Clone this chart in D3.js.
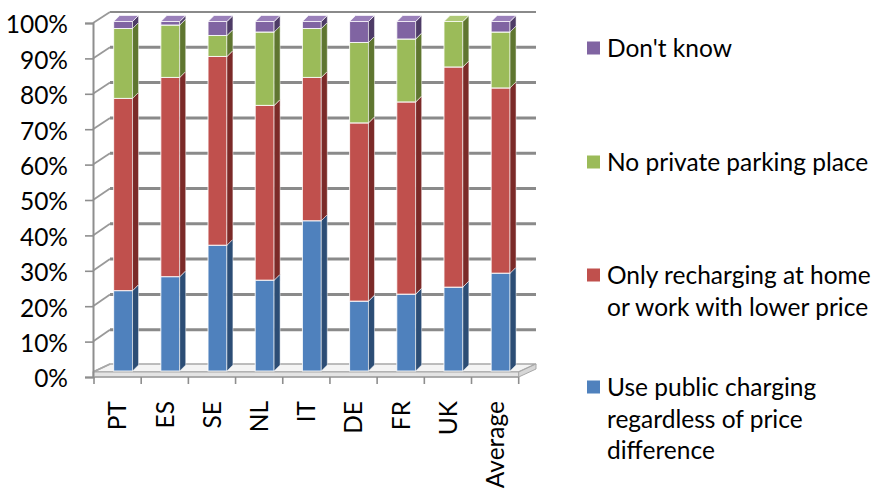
<!DOCTYPE html>
<html>
<head>
<meta charset="utf-8">
<script src="https://cdn.jsdelivr.net/npm/d3@7/dist/d3.min.js"></script>
<style>
  html, body { margin: 0; padding: 0; background: #fff; }
  svg { display: block; font-family: Lato, "Open Sans", sans-serif; }
</style>
</head>
<body>
<svg id="chart" width="875" height="489"></svg>
<script>
// Reasons for charging behaviour, share of respondents per country (%)
const categories = ["PT", "ES", "SE", "NL", "IT", "DE", "FR", "UK", "Average"];
const publicCharging = [23, 27, 36, 26, 43, 20, 22, 24, 28];
const homeOrWork     = [55, 57, 54, 50, 41, 51, 55, 63, 53];
const noParking      = [20, 15, 6, 21, 14, 23, 18, 13, 16];
const dontKnow       = [2, 1, 4, 3, 2, 6, 5, 0, 3];

const legendLines = [
  ["Use public charging", "regardless of price", "difference"],
  ["Only recharging at home", "or work with lower price"],
  ["No private parking place"],
  ["Don't know"]
];
const yTicks = [0, 10, 20, 30, 40, 50, 60, 70, 80, 90, 100];

const seriesValues = [publicCharging, homeOrWork, noParking, dontKnow];
const frontFill = ["#4F81BD", "#C0504D", "#9BBB59", "#8064A2"];
const sideFill  = ["#2C4D75", "#7B2A28", "#5F7630", "#4D3B66"];
const topFill   = ["#6E97CB", "#CC6B68", "#AFC977", "#9A80BA"];

const FONT = 24.5;
const svg = d3.select("#chart");

// Front plane (axis), back wall and bar planes of the 3-D box
const yFront = d3.scaleLinear().domain([0, 100]).range([377, 23]);
const yBack  = d3.scaleLinear().domain([0, 100]).range([365, 12]);
const yBar   = d3.scaleLinear().domain([0, 100]).range([371, 21.5]);

const xFront = d3.scaleBand().domain(categories).range([94, 518.7]).padding(0);
const xBar = d3.scaleBand().domain(categories).range([99.5, 524.2])
  .paddingInner(0.6).paddingOuter(0.3);

const wallLeft = 110, wallRight = 536, axisX = 93;
const depthX = 6, depthY = -6;

// Floor slab
const floorFrontY = 372, floorBackY = 364;
svg.append("polygon")
  .attr("points", [[axisX, floorFrontY], [518.7, floorFrontY], [wallRight, floorBackY], [wallLeft, floorBackY]].join(" "))
  .attr("fill", "#f4f4f4").attr("stroke", "#a8a8a8").attr("stroke-width", 1.5);
svg.append("polygon")
  .attr("points", [[axisX, floorFrontY], [518.7, floorFrontY], [518.7, 377], [axisX, 377]].join(" "))
  .attr("fill", "#e4e4e4").attr("stroke", "#a8a8a8").attr("stroke-width", 1);
svg.append("polygon")
  .attr("points", [[518.7, floorFrontY], [wallRight, floorBackY], [wallRight, floorBackY + 5], [518.7, 377]].join(" "))
  .attr("fill", "#d6d6d6").attr("stroke", "#a8a8a8").attr("stroke-width", 1);

// Back-wall gridlines and side-wall lines
const grid = svg.append("g");
grid.selectAll("line.back").data(yTicks.filter(d => d > 0)).join("line")
  .attr("class", "back")
  .attr("x1", wallLeft).attr("x2", wallRight)
  .attr("y1", d => yBack(d)).attr("y2", d => yBack(d))
  .attr("stroke", "#8a8a8a").attr("stroke-width", d => d === 100 ? 2.2 : 3);
grid.selectAll("line.side").data(yTicks.filter(d => d > 0)).join("line")
  .attr("class", "side")
  .attr("x1", axisX).attr("x2", wallLeft)
  .attr("y1", d => yFront(d)).attr("y2", d => yBack(d))
  .attr("stroke", "#999").attr("stroke-width", 1.8);
grid.append("line")
  .attr("x1", axisX).attr("x2", wallLeft)
  .attr("y1", floorFrontY).attr("y2", floorBackY)
  .attr("stroke", "#a8a8a8").attr("stroke-width", 1.5);

// Stacked 3-D columns
const stackData = categories.map((c, i) => {
  const o = { cat: c };
  seriesValues.forEach((vals, s) => { o["s" + s] = vals[i]; });
  return o;
});
const stack = d3.stack().keys(seriesValues.map((_, s) => "s" + s));
const layers = stack(stackData);

const bars = svg.append("g");
categories.forEach((cat, ci) => {
  const g = bars.append("g");
  const x0 = xBar(cat), w = xBar.bandwidth();
  layers.forEach((layer, s) => {
    const [v0, v1] = layer[ci];
    if (v1 - v0 <= 0) return;
    const yb = yBar(v0), yt = yBar(v1);
    // front face
    g.append("rect")
      .attr("x", x0).attr("y", yt).attr("width", w).attr("height", yb - yt)
      .attr("fill", frontFill[s]).attr("stroke", "rgba(255,255,255,0.85)").attr("stroke-width", 1);
    // right side face
    g.append("polygon")
      .attr("points", [[x0 + w, yb], [x0 + w + depthX, yb + depthY], [x0 + w + depthX, yt + depthY], [x0 + w, yt]].join(" "))
      .attr("fill", sideFill[s]).attr("stroke", "rgba(255,255,255,0.6)").attr("stroke-width", 0.8);
    // top face
    g.append("polygon")
      .attr("points", [[x0, yt], [x0 + depthX, yt + depthY], [x0 + w + depthX, yt + depthY], [x0 + w, yt]].join(" "))
      .attr("fill", topFill[s]).attr("stroke", "rgba(255,255,255,0.85)").attr("stroke-width", 0.8);
  });
});

// Value axis
const yAxis = svg.append("g")
  .attr("transform", `translate(${axisX},0)`)
  .call(d3.axisLeft(yFront).tickValues(yTicks).tickFormat(d => d + "%").tickSize(8).tickPadding(17));
yAxis.select(".domain").attr("stroke", "#8e8e8e").attr("stroke-width", 2);
yAxis.selectAll(".tick line").attr("stroke", "#8e8e8e").attr("stroke-width", 1.6);
yAxis.selectAll(".tick text")
  .attr("font-family", "Lato, sans-serif").attr("font-size", FONT).attr("fill", "#000")
  .attr("dy", "0.4em");

// Category axis
const xAxisG = svg.append("g").attr("transform", "translate(0,377)");
xAxisG.append("line").attr("x1", 94).attr("x2", 518.7).attr("y1", 0).attr("y2", 0)
  .attr("stroke", "#a0a0a0").attr("stroke-width", 1.5);
xAxisG.selectAll("line.tick").data(d3.range(categories.length + 1)).join("line")
  .attr("class", "tick")
  .attr("x1", i => xFront.range()[0] + i * xFront.step())
  .attr("x2", i => xFront.range()[0] + i * xFront.step())
  .attr("y1", 0).attr("y2", 7)
  .attr("stroke", "#8e8e8e").attr("stroke-width", 1.6);
const xAxis = xAxisG.append("g")
  .call(d3.axisBottom(xFront).tickSize(0).tickPadding(0));
xAxis.select(".domain").remove();
xAxis.selectAll(".tick text")
  .attr("font-family", "Lato, sans-serif").attr("font-size", FONT).attr("fill", "#000")
  .attr("transform", "rotate(-90)")
  .attr("text-anchor", "end")
  .attr("x", -24).attr("y", 0).attr("dy", "0.36em");

// Legend (top entry is the topmost stack series)
const legendY = [48, 162, 275, 387];
const legend = svg.append("g");
[3, 2, 1, 0].forEach((s, k) => {
  const y0 = legendY[k];
  legend.append("rect")
    .attr("x", 587).attr("y", y0 - 6.5).attr("width", 13).attr("height", 13)
    .attr("fill", frontFill[s]);
  const t = legend.append("text")
    .attr("x", 607).attr("y", y0)
    .attr("font-family", "Lato, sans-serif").attr("font-size", FONT).attr("fill", "#000");
  legendLines[s].forEach((line, li) => {
    t.append("tspan").attr("x", 607).attr("dy", li === 0 ? "0.36em" : 31.7).text(line);
  });
});
</script>
</body>
</html>
